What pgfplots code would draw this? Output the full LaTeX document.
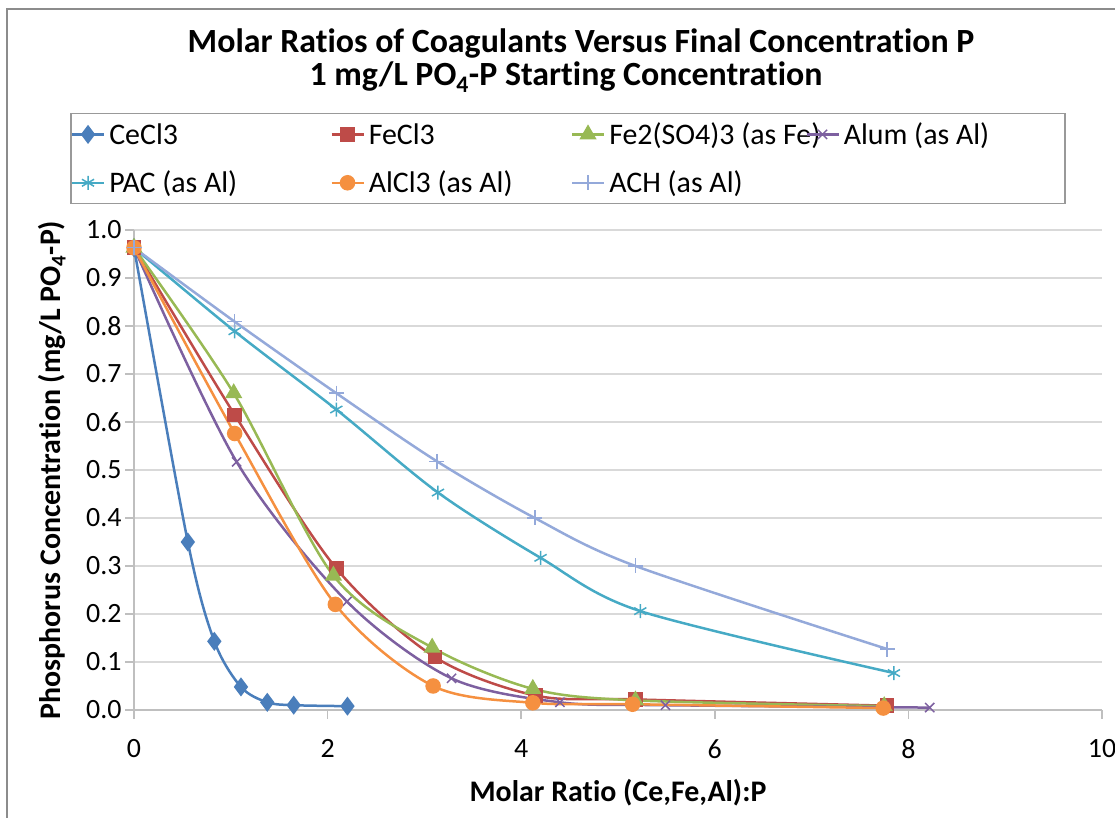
\documentclass[border=0pt]{standalone}
\usepackage{pgfplots}
\pgfplotsset{compat=1.18}
\usepackage{fontspec}
\setmainfont{Carlito}[Ligatures=NoCommon]

\definecolor{ceclc}{HTML}{4A7EBB}
\definecolor{feclc}{HTML}{BE4B48}
\definecolor{fesoc}{HTML}{98B954}
\definecolor{alumc}{HTML}{7D60A0}
\definecolor{pacc}{HTML}{46AAC5}
\definecolor{alclc}{HTML}{F59040}
\definecolor{achc}{HTML}{94A9DA}
\definecolor{gridc}{HTML}{D9D9D9}
\definecolor{axisc}{HTML}{BFBFBF}

\pgfplotstableread{
x     y
0     0.963
0.556 0.350
0.83  0.143
1.105 0.048
1.377 0.016
1.65  0.010
2.205 0.008
}\cecl
\pgfplotstableread{
x     y
0     0.963
1.04  0.615
2.09  0.295
3.11  0.110
4.15  0.030
5.18  0.022
7.78  0.009
}\fecl
\pgfplotstableread{
x     y
0     0.963
1.03  0.660
2.06  0.280
3.08  0.130
4.12  0.044
5.18  0.020
7.75  0.008
}\feso
\pgfplotstableread{
x     y
0     0.963
1.06  0.517
2.20  0.226
3.28  0.066
4.40  0.016
5.49  0.010
8.22  0.005
}\alum
\pgfplotstableread{
x     y
0     0.963
1.04  0.789
2.09  0.626
3.14  0.453
4.20  0.317
5.23  0.206
7.85  0.077
}\pac
\pgfplotstableread{
x     y
0     0.963
1.04  0.576
2.08  0.220
3.09  0.050
4.12  0.015
5.15  0.012
7.74  0.004
}\alcl
\pgfplotstableread{
x     y
0     0.963
1.04  0.809
2.09  0.660
3.13  0.518
4.14  0.400
5.18  0.300
7.78  0.127
}\ach

\begin{document}
\begin{tikzpicture}[x=1bp,y=1bp]
\useasboundingbox (0,0) rectangle (1115,818);
% chart area border
\draw[line width=2bp, color=black!45] (7,-20) -- (7,809) -- (1140,809);
% title
\node[font=\bfseries\fontsize{34}{40}\selectfont, anchor=base] at (581,765)
  {Molar Ratios of Coagulants Versus Final Concentration P};
\node[font=\bfseries\fontsize{34}{40}\selectfont, anchor=base] at (566,732)
  {1 mg/L PO\textsubscript{4}-P Starting Concentration};

\begin{axis}[
    at={(134bp,108bp)}, anchor=south west,
    scale only axis,
    width=968bp, height=480bp,
    xmin=0, xmax=10, ymin=0, ymax=1,
    xtick={0,2,4,6,8,10},
    ytick={0,0.1,0.2,0.3,0.4,0.5,0.6,0.7,0.8,0.9,1.0},
    axis x line*=bottom, axis y line*=left,
    axis line style={line width=1.5bp, color=axisc},
    tick align=outside,
    major tick length=9bp,
    tick style={line width=1.5bp, color=axisc},
    ymajorgrids,
    grid style={line width=2bp, color=gridc},
    /pgf/number format/assume math mode=true,
    ticklabel style={font=\fontsize{28}{34}\selectfont},
    xticklabel style={yshift=-17bp},
    yticklabel style={/pgf/number format/.cd, fixed, fixed zerofill, precision=1},
    xlabel={Molar Ratio (Ce,Fe,Al):P},
    ylabel={Phosphorus Concentration (mg/L PO\textsubscript{4}-P)},
    label style={font=\bfseries\fontsize{30}{36}\selectfont},
    xlabel style={at={(axis description cs:0.5,-0.1729)}, anchor=center},
    ylabel style={at={(axis description cs:-0.0847,0.5)}, anchor=center},
    clip=false,
    every axis plot/.append style={smooth, tension=0.5, line width=2.5bp},
    legend columns=4,
    legend cell align=left,
    legend image code/.code={\draw[mark repeat=2,mark phase=2,#1]
        plot coordinates {(0bp,0bp) (16bp,0bp) (32bp,0bp)};},
    legend style={
        at={(axis description cs:-0.0661,1.24375)}, anchor=north west,
        draw=black!40, line width=1.5bp,
        font=\fontsize{30}{36}\selectfont,
        inner xsep=0bp, inner ysep=9bp,
        row sep=25bp,
        nodes={inner sep=0pt},
        /tikz/every odd column/.append style={column sep=4bp},
    },
]
\addplot[color=ceclc, mark=diamond*, mark size=7.5bp, mark options={fill=ceclc}] table {\cecl};
\addlegendentry{\makebox[221bp][l]{CeCl3}}
\addplot[color=feclc, mark=square*, mark size=6bp, mark options={fill=feclc}] table {\fecl};
\addlegendentry{\makebox[202bp][l]{FeCl3}}
\addplot[color=fesoc, mark=triangle*, mark size=7.5bp, mark options={fill=fesoc}] table {\feso};
\addlegendentry{\makebox[196bp][l]{Fe2(SO4)3 (as Fe)}}
\addplot[color=alumc, mark=x, mark size=6.5bp, mark options={line width=1.5bp}] table {\alum};
\addlegendentry{\makebox[221bp][l]{Alum (as Al)}}
\addplot[color=pacc, mark=asterisk, mark size=7bp, mark options={line width=1.5bp}] table {\pac};
\addlegendentry{\makebox[221bp][l]{PAC (as Al)}}
\addplot[color=alclc, mark=*, mark size=6.5bp, mark options={fill=alclc}] table {\alcl};
\addlegendentry{\makebox[202bp][l]{AlCl3 (as Al)}}
\addplot[color=achc, mark=+, mark size=7.5bp, mark options={line width=1.5bp}] table {\ach};
\addlegendentry{\makebox[196bp][l]{ACH (as Al)}}
\end{axis}
\end{tikzpicture}
\end{document}
